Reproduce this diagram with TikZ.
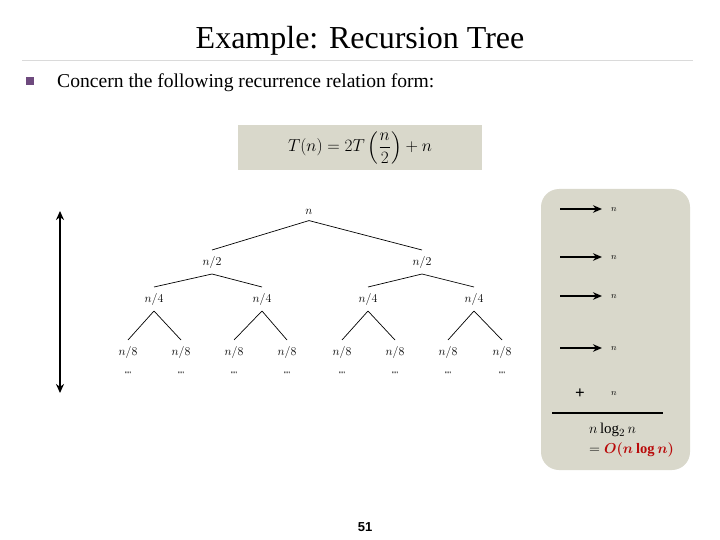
\documentclass[tikz,border=0pt]{standalone}
\usepackage{amsmath,amssymb}
\usepackage{fontspec}
\setmainfont{Liberation Serif}
\newfontfamily\numfont{Liberation Sans}
\usetikzlibrary{arrows.meta,positioning}
\definecolor{slidegray}{RGB}{217,216,203}
\definecolor{bulletpurple}{RGB}{110,74,126}
\definecolor{rulegray}{RGB}{218,218,218}
\definecolor{bigoh}{RGB}{185,10,10}

\begin{document}
\begin{tikzpicture}[
  x=1pt, y=-1pt,
  tnode/.style={inner sep=0pt, outer sep=6pt, font=\fontsize{12}{14}\selectfont},
  dots/.style={inner sep=0pt, font=\numfont\fontsize{8}{10}\selectfont},
  edge/.style={line width=0.7pt},
  sumarrow/.style={-{Stealth[length=9pt,width=7.5pt]}, line width=1.6pt, shorten >=9pt},
  sumlbl/.style={inner sep=0pt, font=\fontsize{9}{11}\selectfont},
]
\useasboundingbox (0,0) rectangle (720,540);

% header
\node[anchor=base, font=\fontsize{32}{36}\selectfont] (title) at (360,49) {Example: Recursion Tree};
\draw[rulegray, line width=0.8pt] (22,60) -- (693,60);
\node[fill=bulletpurple, minimum size=8pt, inner sep=0pt] (bullet) at (30,81) {};
\node[anchor=base west, inner sep=0pt, font=\fontsize{19.6}{24}\selectfont] (intro) at (57,88) {Concern the following recurrence relation form:};
\node[fill=slidegray, minimum width=244pt, minimum height=45pt, font=\fontsize{18}{21}\selectfont] (rec) at (360,147.5)
  {$\displaystyle T(n) = 2T\left(\frac{n}{2}\right)+n$};

% the tree
\node[tnode] (root) at (309,212) {$n$};
\node[tnode] (h1) at (212,262) {$n/2$};
\node[tnode] (h2) at (422,262) {$n/2$};
\node[tnode] (q1) at (154,299) {$n/4$};
\node[tnode] (q2) at (262,299) {$n/4$};
\node[tnode] (q3) at (368,299) {$n/4$};
\node[tnode] (q4) at (474,299) {$n/4$};
\node[tnode] (e1) at (128,352) {$n/8$};
\node[tnode] (e2) at (181,352) {$n/8$};
\node[tnode] (e3) at (234,352) {$n/8$};
\node[tnode] (e4) at (287,352) {$n/8$};
\node[tnode] (e5) at (342,352) {$n/8$};
\node[tnode] (e6) at (395,352) {$n/8$};
\node[tnode] (e7) at (448,352) {$n/8$};
\node[tnode] (e8) at (502,352) {$n/8$};

\draw[edge] (root.south) -- (h1.north);
\draw[edge] (root.south) -- (h2.north);
\draw[edge] (h1.south) -- (q1.north);
\draw[edge] (h1.south) -- (q2.north);
\draw[edge] (h2.south) -- (q3.north);
\draw[edge] (h2.south) -- (q4.north);
\draw[edge] (q1.south) -- (e1.north);
\draw[edge] (q1.south) -- (e2.north);
\draw[edge] (q2.south) -- (e3.north);
\draw[edge] (q2.south) -- (e4.north);
\draw[edge] (q3.south) -- (e5.north);
\draw[edge] (q3.south) -- (e6.north);
\draw[edge] (q4.south) -- (e7.north);
\draw[edge] (q4.south) -- (e8.north);

\node[dots, below=8pt of e1] (d1) {\textquotesingle\textquotesingle\textquotesingle\textquotesingle};
\node[dots, below=8pt of e2] (d2) {\textquotesingle\textquotesingle\textquotesingle\textquotesingle};
\node[dots, below=8pt of e3] (d3) {\textquotesingle\textquotesingle\textquotesingle\textquotesingle};
\node[dots, below=8pt of e4] (d4) {\textquotesingle\textquotesingle\textquotesingle\textquotesingle};
\node[dots, below=8pt of e5] (d5) {\textquotesingle\textquotesingle\textquotesingle\textquotesingle};
\node[dots, below=8pt of e6] (d6) {\textquotesingle\textquotesingle\textquotesingle\textquotesingle};
\node[dots, below=8pt of e7] (d7) {\textquotesingle\textquotesingle\textquotesingle\textquotesingle};
\node[dots, below=8pt of e8] (d8) {\textquotesingle\textquotesingle\textquotesingle\textquotesingle};

% height of the tree
\coordinate (htop) at (60,211);
\coordinate (hbot) at (60,393);
\draw[{Stealth[length=9pt,width=8pt]}-{Stealth[length=9pt,width=8pt]}, line width=2.2pt] (htop) -- (hbot);

% cost per level
\node[fill=slidegray, rounded corners=18pt, minimum width=149pt, minimum height=281pt] (panel) at (615.5,329.5) {};
\coordinate (a1) at (560,209);
\coordinate (a2) at (560,257);
\coordinate (a3) at (560,296);
\coordinate (a4) at (560,348);
\node[sumlbl] (r1) at (614,210) {$n$};
\node[sumlbl] (r2) at (614,258) {$n$};
\node[sumlbl] (r3) at (614,297) {$n$};
\node[sumlbl] (r4) at (614,349) {$n$};
\draw[sumarrow] (a1) -- (r1.west |- a1);
\draw[sumarrow] (a2) -- (r2.west |- a2);
\draw[sumarrow] (a3) -- (r3.west |- a3);
\draw[sumarrow] (a4) -- (r4.west |- a4);
\node[inner sep=0pt, font=\bfseries\fontsize{17}{17}\selectfont] (plus) at (580,394) {+};
\node[sumlbl] (r5) at (614,394) {$n$};
\draw[line width=1.5pt] (552,413) -- (663,413);
\node[anchor=base west, inner sep=0pt, font=\fontsize{15}{17}\selectfont] (total) at (589,433) {$n\log_2 n$};
\node[anchor=base west, inner sep=0pt, font=\fontsize{14.5}{17}\selectfont] (bigo) at (589,453)
  {$=\textcolor{bigoh}{\boldsymbol{O(n\log n)}}$};

\node[font=\numfont\bfseries\fontsize{13}{15}\selectfont] (pagenum) at (365,527) {51};
\end{tikzpicture}
\end{document}
